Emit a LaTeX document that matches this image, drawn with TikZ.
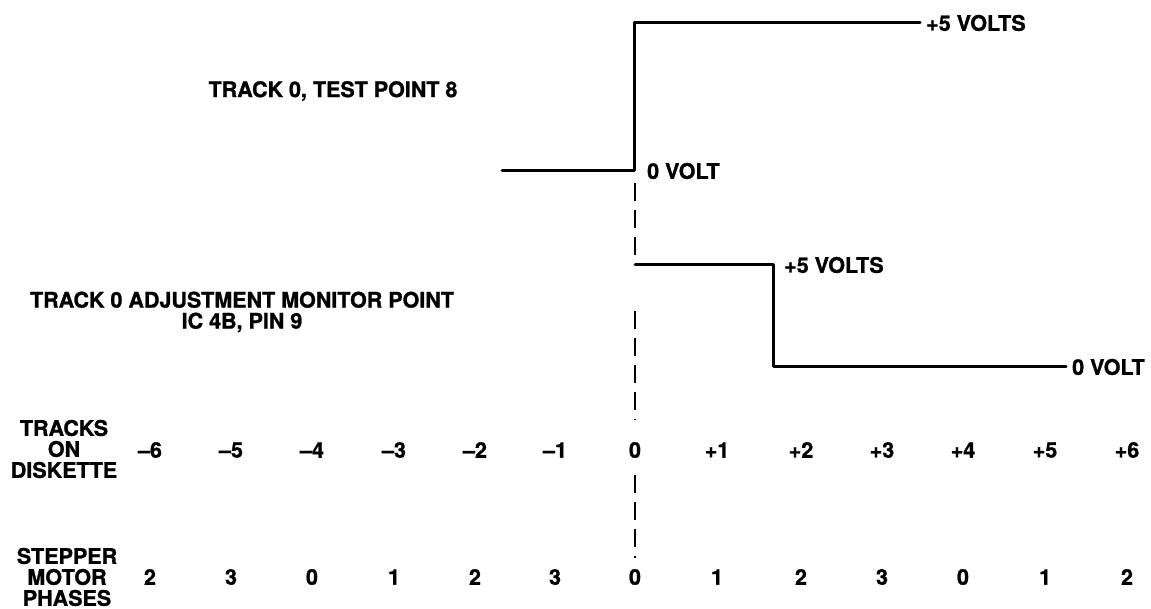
\documentclass[tikz,border=0pt]{standalone}
\usepackage{fontspec}
\setmainfont{TeX Gyre Heros}[BoldFeatures={FakeBold=1.2}]
\begin{document}
\begin{tikzpicture}[x=1pt,y=-1pt,
  lbl/.style={font=\bfseries\fontsize{21.5}{21}\selectfont, inner sep=0pt, align=center},
  num/.style={lbl, anchor=center},
  wave/.style={line width=3pt, line join=round, line cap=round},
  guide/.style={line width=2pt, dash pattern=on 18pt off 9pt}]
\useasboundingbox (0,0) rectangle (1151,609);

% waveform 1
\coordinate (w1a) at (502,171);
\coordinate (w1b) at (634,171);
\coordinate (w1c) at (634,23);
\coordinate (w1d) at (920,23);
\draw[wave] (w1a) -- (w1b) -- (w1c) -- (w1d);
\node[lbl, anchor=west] (v1hi) at ([xshift=6pt]w1d) {+5 VOLTS};
\node[lbl, anchor=west] (v1lo) at ([xshift=13pt]w1b) {0 VOLT};

% waveform 2
\coordinate (w2a) at (635,265);
\coordinate (w2b) at (773,265);
\coordinate (w2c) at (773,367);
\coordinate (w2d) at (1066,367);
\draw[wave] (w2a) -- (w2b) -- (w2c) -- (w2d);
\node[lbl, anchor=west] (v2hi) at ([xshift=11pt]w2b) {+5 VOLTS};
\node[lbl, anchor=west] (v2lo) at ([xshift=6pt]w2d) {0 VOLT};

% titles
\node[lbl] (title1) at (333,91) {TRACK 0, TEST POINT 8};
\node[lbl] (title2) at (242,312) {TRACK 0 ADJUSTMENT MONITOR POINT\\IC 4B, PIN 9};
\node[lbl] (trk) at (64,449) {TRACKS\\ON\\DISKETTE};
\node[lbl] (phs) at (67,577) {STEPPER\\MOTOR\\PHASES};

% rows
\foreach \x/\t/\p [count=\i] in {150/–6/2, 231/–5/3, 312/–4/0, 394/–3/1, 475/–2/2, 555/–1/3, 635/0/0, 717/+1/1, 801/+2/2, 882/+3/3, 963/+4/0, 1045/+5/1, 1127/+6/2}{
  \node[num] (t\i) at (\x,450) {\t};
  \node[num] (p\i) at (\x,577) {\p};
}

% guide line
\coordinate (g0) at (635,183);
\draw[guide] (g0) -- (w2a);
\draw[guide, shorten <=46pt, shorten >=22pt] (w2a) -- (t7);
\draw[guide, shorten <=17pt, shorten >=11pt] (t7) -- (p7);
\end{tikzpicture}
\end{document}
